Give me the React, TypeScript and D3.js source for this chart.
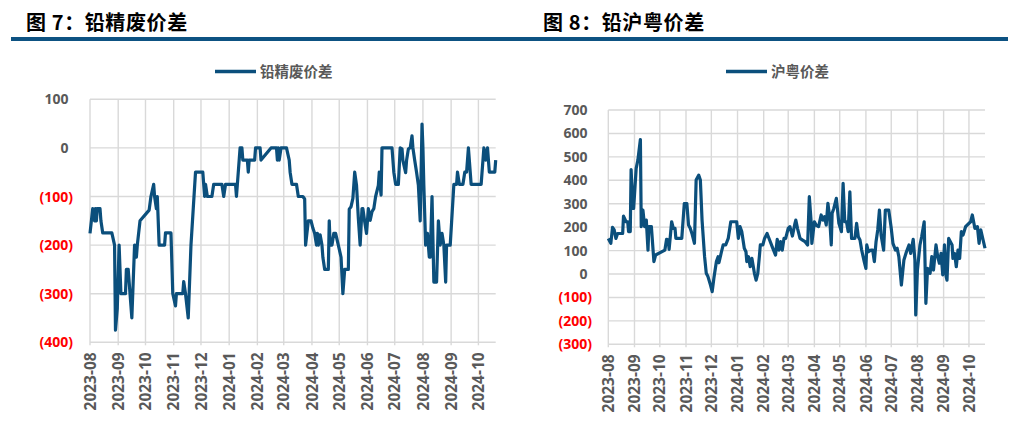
import React from "react";
import * as d3 from "d3";

const monthTicks = [
  "2023-08", "2023-09", "2023-10", "2023-11", "2023-12", "2024-01", "2024-02", "2024-03",
  "2024-04", "2024-05", "2024-06", "2024-07", "2024-08", "2024-09", "2024-10",
];
const leftYTicks = [100, 0, -100, -200, -300, -400];
const rightYTicks = [700, 600, 500, 400, 300, 200, 100, 0, -100, -200, -300];
const dateStart = "2023-08-01";
const dateEnd = "2024-10-20";

const leadScrapSpread: [string, number][] = [
  ["2023-08-01",-176],["2023-08-04",-125],["2023-08-06",-150],["2023-08-07",-125],["2023-08-08",-150],["2023-08-09",-125],["2023-08-12",-125],["2023-08-13",-150],["2023-08-15",-175],["2023-08-25",-175],["2023-08-28",-200],["2023-08-29",-375],["2023-08-31",-330],["2023-09-02",-200],["2023-09-04",-300],["2023-09-09",-300],["2023-09-10",-250],["2023-09-12",-250],["2023-09-16",-350],["2023-09-19",-200],["2023-09-21",-225],["2023-09-22",-200],["2023-09-25",-150],["2023-10-05",-128],["2023-10-07",-100],["2023-10-10",-75],["2023-10-11",-100],["2023-10-13",-125],["2023-10-14",-100],["2023-10-16",-200],["2023-10-22",-200],["2023-10-23",-175],["2023-10-29",-175],["2023-10-31",-300],["2023-11-03",-325],["2023-11-04",-300],["2023-11-11",-300],["2023-11-12",-275],["2023-11-14",-300],["2023-11-17",-350],["2023-11-20",-200],["2023-11-25",-50],["2023-12-03",-50],["2023-12-05",-100],["2023-12-06",-75],["2023-12-08",-100],["2023-12-13",-100],["2023-12-15",-75],["2023-12-24",-75],["2023-12-26",-100],["2023-12-28",-75],["2024-01-08",-75],["2024-01-09",-100],["2024-01-13",0],["2024-01-15",0],["2024-01-16",-25],["2024-01-21",-25],["2024-01-22",-50],["2024-01-23",-25],["2024-01-29",-25],["2024-01-30",0],["2024-02-04",0],["2024-02-05",-25],["2024-02-16",0],["2024-02-22",0],["2024-02-23",-25],["2024-02-24",0],["2024-02-25",-25],["2024-02-27",0],["2024-03-04",0],["2024-03-07",-25],["2024-03-08",-50],["2024-03-10",-75],["2024-03-15",-75],["2024-03-17",-100],["2024-03-22",-100],["2024-03-24",-105],["2024-03-25",-200],["2024-03-28",-150],["2024-03-31",-150],["2024-04-02",-165],["2024-04-04",-176],["2024-04-06",-200],["2024-04-07",-176],["2024-04-08",-200],["2024-04-10",-179],["2024-04-12",-200],["2024-04-13",-225],["2024-04-15",-250],["2024-04-19",-250],["2024-04-20",-150],["2024-04-21",-200],["2024-04-23",-200],["2024-04-25",-176],["2024-04-27",-176],["2024-04-30",-200],["2024-05-03",-225],["2024-05-05",-300],["2024-05-07",-250],["2024-05-11",-250],["2024-05-12",-126],["2024-05-14",-121],["2024-05-16",-104],["2024-05-18",-50],["2024-05-20",-77],["2024-05-22",-145],["2024-05-24",-200],["2024-05-26",-125],["2024-05-27",-125],["2024-05-29",-152],["2024-05-31",-176],["2024-06-02",-125],["2024-06-04",-149],["2024-06-06",-131],["2024-06-08",-125],["2024-06-10",-100],["2024-06-13",-77],["2024-06-14",-50],["2024-06-15",-77],["2024-06-16",-97],["2024-06-17",0],["2024-06-28",0],["2024-06-30",-50],["2024-07-02",-75],["2024-07-05",-75],["2024-07-07",0],["2024-07-09",-2],["2024-07-10",-26],["2024-07-13",-51],["2024-07-14",-26],["2024-07-16",-2],["2024-07-18",0],["2024-07-20",25],["2024-07-21",0],["2024-07-23",-26],["2024-07-25",-50],["2024-07-27",-77],["2024-07-29",-150],["2024-07-31",49],["2024-08-01",0],["2024-08-02",-77],["2024-08-04",-200],["2024-08-06",-176],["2024-08-08",-225],["2024-08-09",-225],["2024-08-11",-100],["2024-08-13",-276],["2024-08-16",-276],["2024-08-18",-150],["2024-08-20",-200],["2024-08-22",-176],["2024-08-24",-200],["2024-08-26",-276],["2024-08-27",-200],["2024-08-31",-200],["2024-09-04",-75],["2024-09-07",-75],["2024-09-08",-50],["2024-09-10",-75],["2024-09-14",-75],["2024-09-16",-50],["2024-09-18",-50],["2024-09-20",0],["2024-09-22",-50],["2024-09-23",-75],["2024-10-04",-75],["2024-10-07",0],["2024-10-09",-25],["2024-10-11",0],["2024-10-13",-50],["2024-10-19",-50],["2024-10-20",-25],
];

const shGdSpread: [string, number][] = [
  ["2023-08-01",152],["2023-08-04",131],["2023-08-06",199],["2023-08-08",188],["2023-08-10",152],["2023-08-12",173],["2023-08-18",173],["2023-08-19",247],["2023-08-22",223],["2023-08-24",223],["2023-08-25",181],["2023-08-27",181],["2023-08-28",446],["2023-08-30",280],["2023-08-31",280],["2023-09-03",451],["2023-09-05",486],["2023-09-08",574],["2023-09-09",202],["2023-09-11",273],["2023-09-13",202],["2023-09-15",230],["2023-09-17",102],["2023-09-18",202],["2023-09-21",202],["2023-09-24",53],["2023-09-26",81],["2023-10-07",102],["2023-10-09",148],["2023-10-11",145],["2023-10-12",105],["2023-10-15",223],["2023-10-17",195],["2023-10-19",195],["2023-10-20",152],["2023-10-23",152],["2023-10-27",152],["2023-10-30",301],["2023-11-02",301],["2023-11-04",209],["2023-11-06",195],["2023-11-08",173],["2023-11-11",131],["2023-11-13",401],["2023-11-16",422],["2023-11-18",401],["2023-11-20",230],["2023-11-23",74],["2023-11-25",3],["2023-11-27",-11],["2023-11-30",-47],["2023-12-02",-75],["2023-12-04",-18],["2023-12-07",53],["2023-12-09",74],["2023-12-10",48],["2023-12-13",95],["2023-12-15",124],["2023-12-18",124],["2023-12-21",152],["2023-12-24",223],["2023-12-31",223],["2024-01-02",152],["2024-01-04",202],["2024-01-06",181],["2024-01-09",110],["2024-01-11",95],["2024-01-12",53],["2024-01-14",74],["2024-01-16",31],["2024-01-18",67],["2024-01-21",3],["2024-01-23",-26],["2024-01-25",3],["2024-01-27",81],["2024-01-28",124],["2024-01-31",124],["2024-02-02",152],["2024-02-05",173],["2024-02-08",145],["2024-02-11",117],["2024-02-15",81],["2024-02-17",148],["2024-02-19",102],["2024-02-21",138],["2024-02-23",102],["2024-02-25",152],["2024-02-27",152],["2024-03-01",195],["2024-03-03",202],["2024-03-06",162],["2024-03-09",216],["2024-03-10",230],["2024-03-12",195],["2024-03-15",152],["2024-03-18",145],["2024-03-21",138],["2024-03-24",124],["2024-03-26",330],["2024-03-28",230],["2024-03-29",131],["2024-04-01",223],["2024-04-03",209],["2024-04-06",202],["2024-04-09",252],["2024-04-11",230],["2024-04-13",245],["2024-04-15",209],["2024-04-17",302],["2024-04-19",245],["2024-04-21",124],["2024-04-22",259],["2024-04-24",280],["2024-04-27",323],["2024-04-30",216],["2024-05-03",181],["2024-05-05",387],["2024-05-07",223],["2024-05-09",223],["2024-05-11",181],["2024-05-13",351],["2024-05-15",152],["2024-05-17",152],["2024-05-19",152],["2024-05-21",216],["2024-05-23",159],["2024-05-25",145],["2024-05-27",102],["2024-05-30",53],["2024-06-01",24],["2024-06-02",124],["2024-06-04",95],["2024-06-07",102],["2024-06-09",102],["2024-06-11",53],["2024-06-13",138],["2024-06-15",188],["2024-06-17",273],["2024-06-19",166],["2024-06-22",102],["2024-06-24",273],["2024-06-28",273],["2024-07-01",195],["2024-07-03",131],["2024-07-06",102],["2024-07-08",110],["2024-07-10",74],["2024-07-13",-47],["2024-07-16",60],["2024-07-19",95],["2024-07-22",124],["2024-07-24",88],["2024-07-27",148],["2024-07-29",60],["2024-07-30",-175],["2024-08-01",17],["2024-08-04",124],["2024-08-06",159],["2024-08-09",223],["2024-08-11",-125],["2024-08-13",24],["2024-08-16",3],["2024-08-18",74],["2024-08-20",17],["2024-08-23",124],["2024-08-25",74],["2024-08-27",46],["2024-08-29",88],["2024-08-31",-4],["2024-09-02",124],["2024-09-04",-11],["2024-09-05",-26],["2024-09-07",152],["2024-09-11",124],["2024-09-12",67],["2024-09-14",88],["2024-09-16",31],["2024-09-18",102],["2024-09-20",67],["2024-09-22",181],["2024-09-24",166],["2024-09-27",202],["2024-10-03",223],["2024-10-05",252],["2024-10-08",195],["2024-10-11",202],["2024-10-13",131],["2024-10-15",188],["2024-10-20",110],
];

const parseDay = d3.timeParse("%Y-%m-%d");
const parseMonth = d3.timeParse("%Y-%m");

const LINE_COLOR = "#0b4f7c";
const GRID = "#d9d9d9";
const GRAY = "#595959";
const RED = "#ff0000";
const NUM_FONT = "'Open Sans', 'Noto Sans', sans-serif";
const CJK_FONT = "'Noto Sans CJK SC', sans-serif";

type PanelProps = {
  data: [string, number][];
  yTicks: number[];
  x0: number;
  x1: number;
  yTop: number;
  yBottom: number;
  labelRight: number;
  legendX: number;
  legendText: string;
};

function Panel({ data, yTicks, x0, x1, yTop, yBottom, labelRight, legendX, legendText }: PanelProps) {
  const x = d3.scaleTime().domain([parseDay(dateStart)!, parseDay(dateEnd)!]).range([x0, x1]);
  const yMax = d3.max(yTicks)!;
  const yMin = d3.min(yTicks)!;
  const y = d3.scaleLinear().domain([yMin, yMax]).range([yBottom, yTop]);
  const line = d3
    .line<[string, number]>()
    .x((d) => x(parseDay(d[0])!))
    .y((d) => y(d[1]));
  const fmt = (v: number) => (v < 0 ? `(${Math.abs(v)})` : `${v}`);
  return (
    <g>
      {yTicks.map((t) => (
        <line key={"h" + t} x1={x0} x2={x1} y1={y(t)} y2={y(t)} stroke={GRID} strokeWidth={1.4} />
      ))}
      {monthTicks.map((m) => {
        const xv = x(parseMonth(m)!);
        return <line key={"v" + m} x1={xv} x2={xv} y1={yTop} y2={yBottom + 3} stroke={GRID} strokeWidth={1.4} />;
      })}
      <path d={line(data)!} fill="none" stroke={LINE_COLOR} strokeWidth={3.2} strokeLinejoin="round" />
      {yTicks.map((t) => (
        <text
          key={"yl" + t}
          x={t < 0 ? labelRight : labelRight - 4.5}
          y={y(t)}
          dy="0.36em"
          textAnchor="end"
          fontFamily={NUM_FONT}
          fontWeight={700}
          fontSize={14}
          fill={t < 0 ? RED : GRAY}
        >
          {fmt(t)}
        </text>
      ))}
      {monthTicks.map((m) => {
        const xv = x(parseMonth(m)!);
        return (
          <text
            key={"xl" + m}
            transform={`translate(${xv},${yBottom + 10}) rotate(-90)`}
            dy="0.36em"
            textAnchor="end"
            fontFamily={NUM_FONT}
            fontWeight={700}
            fontSize={15.5}
            fill={GRAY}
          >
            {m}
          </text>
        );
      })}
      <line x1={legendX} x2={legendX + 41} y1={71.5} y2={71.5} stroke={LINE_COLOR} strokeWidth={3.5} />
      <text x={legendX + 45} y={71.5} dy="0.36em" fontFamily={CJK_FONT} fontWeight={700} fontSize={14.5} fill={GRAY}>
        {legendText}
      </text>
    </g>
  );
}

export default function App() {
  return (
    <svg
      width={1019}
      height={427}
      style={{ position: "absolute", left: 0, top: 0, background: "#fff" }}
    >
      <rect x={0} y={0} width={1019} height={427} fill="#fff" />
      <text x={26} y={29.5} fontFamily={CJK_FONT} fontWeight={700} fontSize={20} letterSpacing={0.6} fill="#000">
        图 7：铅精废价差
      </text>
      <text x={543} y={29.5} fontFamily={CJK_FONT} fontWeight={700} fontSize={20} letterSpacing={0.6} fill="#000">
        图 8：铅沪粤价差
      </text>
      <rect x={11} y={37} width={997} height={4} fill="#0d5282" />
      <Panel
        data={leadScrapSpread}
        yTicks={leftYTicks}
        x0={90}
        x1={495.7}
        yTop={99.3}
        yBottom={342.3}
        labelRight={73}
        legendX={215}
        legendText="铅精废价差"
      />
      <Panel
        data={shGdSpread}
        yTicks={rightYTicks}
        x0={608.3}
        x1={985}
        yTop={110}
        yBottom={344.3}
        labelRight={592}
        legendX={726}
        legendText="沪粤价差"
      />
    </svg>
  );
}
